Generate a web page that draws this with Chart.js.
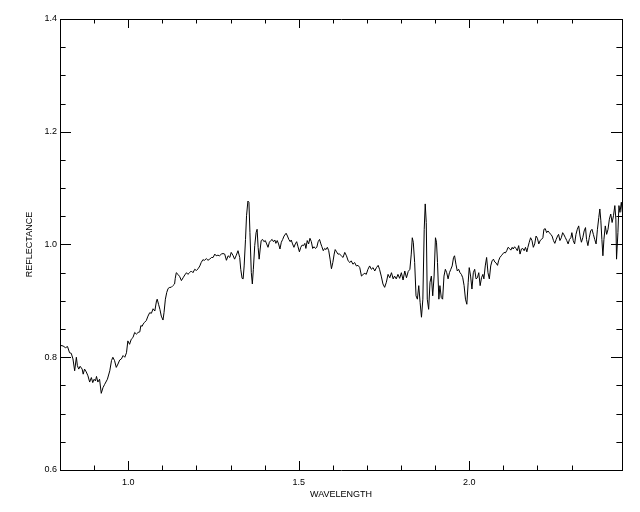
<!DOCTYPE html>
<html>
<head>
<meta charset="utf-8">
<title>Reflectance</title>
<script src="https://cdn.jsdelivr.net/npm/chart.js@4.4.0/dist/chart.umd.min.js"></script>
<style>
  body { margin: 0; background: #fff; }
  #wrap { width: 640px; height: 512px; }
</style>
</head>
<body>
<div id="wrap"><canvas id="specChart" width="640" height="512"></canvas></div>
<script>
// Spectrum
const wavelength = [
  0.802,0.809,0.816,0.822,0.828,0.833,0.838,0.843,0.848,0.851,
  0.855,0.859,0.865,0.868,0.872,0.877,0.882,0.887,0.892,0.896,
  0.900,0.904,0.907,0.911,0.916,0.921,0.926,0.931,0.939,0.946,
  0.951,0.955,0.960,0.965,0.970,0.975,0.980,0.985,0.990,0.995,
  0.999,1.004,1.009,1.014,1.019,1.024,1.029,1.034,1.037,1.041,
  1.044,1.048,1.053,1.058,1.063,1.068,1.073,1.078,1.083,1.085,
  1.089,1.093,1.097,1.102,1.105,1.109,1.113,1.117,1.122,1.126,
  1.131,1.136,1.138,1.141,1.146,1.151,1.156,1.161,1.166,1.171,
  1.175,1.180,1.185,1.190,1.195,1.200,1.205,1.210,1.214,1.219,
  1.224,1.229,1.234,1.239,1.244,1.249,1.254,1.258,1.263,1.268,
  1.273,1.278,1.283,1.288,1.293,1.298,1.302,1.307,1.312,1.317,
  1.322,1.327,1.330,1.334,1.337,1.340,1.344,1.347,1.351,1.354,
  1.357,1.361,1.364,1.367,1.371,1.375,1.378,1.381,1.384,1.387,
  1.390,1.394,1.398,1.402,1.406,1.410,1.414,1.418,1.422,1.426,
  1.430,1.433,1.437,1.441,1.445,1.449,1.453,1.457,1.463,1.467,
  1.471,1.475,1.478,1.482,1.486,1.490,1.494,1.498,1.502,1.506,
  1.510,1.514,1.518,1.521,1.525,1.529,1.533,1.537,1.541,1.545,
  1.549,1.553,1.557,1.561,1.565,1.568,1.572,1.576,1.580,1.584,
  1.588,1.592,1.596,1.600,1.604,1.607,1.611,1.615,1.620,
  1.625,1.630,1.635,1.640,1.645,1.650,1.654,1.659,1.664,1.669,
  1.674,1.679,1.684,1.689,1.694,1.698,1.703,1.708,1.713,1.718,
  1.723,1.728,1.733,1.737,1.742,1.747,1.752,1.757,1.762,1.767,
  1.772,1.777,1.781,1.786,1.791,1.796,1.801,1.806,1.811,1.816,
  1.821,1.826,1.830,1.833,1.836,1.840,1.844,1.848,1.852,1.856,
  1.860,1.864,1.868,1.871,1.874,1.877,1.881,1.885,1.889,1.893,
  1.897,1.901,1.904,1.907,1.911,1.914,1.918,1.922,1.926,1.930,
  1.934,1.938,1.942,1.946,1.950,1.954,1.957,1.961,1.965,1.969,
  1.973,1.977,1.981,1.985,1.989,1.993,1.997,2.000,2.004,2.008,
  2.012,2.016,2.020,2.024,2.028,2.032,2.036,2.040,2.043,2.047,
  2.051,2.055,2.059,2.063,2.067,2.071,2.075,2.079,2.083,2.086,
  2.090,2.094,2.098,2.102,2.106,2.110,2.114,2.118,2.122,2.126,
  2.129,2.133,2.137,2.141,2.145,2.149,2.153,2.157,2.161,2.165,
  2.169,2.172,2.176,2.180,2.184,2.188,2.192,2.196,2.200,2.204,
  2.208,2.212,2.216,2.219,2.223,2.227,2.231,2.235,2.239,2.243,
  2.247,2.251,2.255,2.259,2.262,2.266,2.270,2.274,2.278,2.282,
  2.286,2.290,2.294,2.298,2.301,2.305,2.309,2.313,2.317,2.321,
  2.325,2.329,2.333,2.337,2.341,2.344,2.348,2.352,2.356,2.360,
  2.364,2.368,2.372,2.376,2.380,2.383,2.386,2.389,2.392,2.395,
  2.399,2.403,2.407,2.411,2.415,2.419,2.423,2.427,2.430,2.432,
  2.436,2.439,2.442,2.446,2.449,2.451
];

const reflectance = [
  0.821,0.820,0.817,0.819,0.808,0.807,0.797,0.776,0.800,0.785,
  0.779,0.784,0.779,0.770,0.779,0.774,0.767,0.756,0.764,0.755,
  0.761,0.758,0.766,0.756,0.761,0.736,0.746,0.752,0.761,0.776,
  0.794,0.800,0.794,0.782,0.788,0.795,0.797,0.803,0.800,0.808,
  0.829,0.823,0.832,0.835,0.844,0.841,0.844,0.845,0.856,0.855,
  0.859,0.862,0.865,0.873,0.879,0.878,0.886,0.882,0.900,0.903,
  0.894,0.885,0.873,0.866,0.879,0.903,0.915,0.922,0.924,0.924,
  0.927,0.930,0.940,0.950,0.947,0.943,0.936,0.941,0.946,0.950,
  0.947,0.950,0.953,0.950,0.956,0.954,0.957,0.962,0.968,0.973,
  0.972,0.975,0.972,0.974,0.977,0.977,0.983,0.980,0.981,0.980,
  0.983,0.984,0.983,0.972,0.980,0.977,0.986,0.981,0.974,0.981,
  0.989,0.977,0.956,0.940,0.939,0.962,1.009,1.051,1.077,1.075,
  1.021,0.950,0.930,0.956,0.998,1.021,1.027,0.995,0.974,0.992,
  1.007,1.009,1.005,1.007,1.001,0.995,1.004,1.007,1.009,1.005,
  1.008,1.002,1.007,1.001,0.992,1.004,1.009,1.015,1.020,1.015,
  1.009,1.005,1.008,1.001,0.995,1.001,1.005,0.996,0.987,0.995,
  0.999,0.998,1.002,0.993,1.007,1.001,1.011,1.005,0.993,0.996,
  0.993,0.995,1.005,1.009,1.001,0.996,0.989,0.993,0.991,0.995,
  0.989,0.974,0.957,0.968,0.983,0.991,0.987,0.983,0.983,
  0.980,0.977,0.986,0.980,0.971,0.968,0.971,0.965,0.968,0.962,
  0.963,0.959,0.944,0.947,0.949,0.947,0.956,0.962,0.956,0.959,
  0.953,0.959,0.963,0.956,0.944,0.930,0.924,0.933,0.947,0.941,
  0.950,0.939,0.944,0.939,0.947,0.940,0.950,0.937,0.953,0.941,
  0.952,0.956,0.983,1.012,1.004,0.968,0.909,0.903,0.927,0.897,
  0.871,0.903,1.027,1.072,1.039,0.903,0.885,0.933,0.944,0.909,
  0.944,1.012,1.004,0.968,0.903,0.927,0.906,0.903,0.944,0.956,
  0.950,0.939,0.950,0.956,0.962,0.977,0.980,0.965,0.953,0.956,
  0.950,0.947,0.941,0.927,0.903,0.894,0.933,0.959,0.944,0.921,
  0.950,0.956,0.939,0.941,0.950,0.927,0.941,0.947,0.939,0.962,
  0.977,0.950,0.939,0.962,0.971,0.974,0.969,0.967,0.963,0.971,
  0.977,0.980,0.983,0.986,0.985,0.989,0.995,0.993,0.990,0.995,
  0.992,0.996,0.993,0.989,0.998,0.983,0.992,0.993,0.989,0.995,
  0.987,0.995,1.004,1.012,1.007,0.995,1.001,1.015,1.011,1.001,
  1.007,1.009,1.012,1.027,1.028,1.021,1.024,1.021,1.018,1.015,
  1.007,1.002,1.009,1.015,1.018,1.007,1.012,1.021,1.017,1.012,
  1.007,1.001,1.009,1.012,1.021,1.007,1.001,1.018,1.027,1.033,
  1.015,1.004,1.012,1.024,1.030,1.009,0.998,1.012,1.024,1.027,
  1.018,1.009,1.001,1.027,1.048,1.063,1.042,1.009,0.980,1.009,
  1.033,1.018,1.027,1.045,1.054,1.039,1.051,1.069,1.045,0.974,
  1.021,1.069,1.057,1.075,1.057,1.045
];

// axis ranges and labelled ticks
const xRange = [0.8, 2.448];
const yRange = [0.6, 1.4];
const xTickLabels = ['1.0', '1.5', '2.0'];
const yTickLabels = ['0.6', '0.8', '1.0', '1.2', '1.4'];
const xStep = 0.1, yStep = 0.05;

function onStep(v, step) {
  return Math.abs(v / step - Math.round(v / step)) < 1e-6;
}

const labelFont = { family: '"Liberation Sans", Arial, sans-serif', size: 9 };

// IDL style inward tick marks on all four sides
const tickMarks = {
  id: 'tickMarks',
  afterDraw(chart) {
    const { ctx, chartArea: a, scales: { x, y } } = chart;
    ctx.save();
    ctx.strokeStyle = '#000';
    ctx.lineWidth = 1;
    ctx.beginPath();
    x.ticks.forEach(t => {
      const px = Math.round(x.getPixelForValue(t.value)) + 0.5;
      const len = onStep(t.value, 0.5) ? 9 : 4.5;
      ctx.moveTo(px, a.bottom); ctx.lineTo(px, a.bottom - len);
      ctx.moveTo(px, a.top); ctx.lineTo(px, a.top + len);
    });
    y.ticks.forEach(t => {
      const py = Math.round(y.getPixelForValue(t.value)) + 0.5;
      const len = onStep(t.value, 0.2) ? 11 : 5.6;
      ctx.moveTo(a.left, py); ctx.lineTo(a.left + len, py);
      ctx.moveTo(a.right, py); ctx.lineTo(a.right - len, py);
    });
    ctx.stroke();
    ctx.restore();
  }
};

const frame = { display: true, color: '#000', width: 1 };

const ctx = document.getElementById('specChart').getContext('2d');
const specChart = new Chart(ctx, {
  type: 'line',
  data: {
    datasets: [{
      data: wavelength.map((w, i) => ({ x: w, y: reflectance[i] })),
      borderColor: '#000',
      borderWidth: 1,
      pointRadius: 0,
      tension: 0,
      fill: false
    }]
  },
  options: {
    responsive: false,
    animation: false,
    layout: { padding: 0 },
    plugins: { legend: { display: false }, tooltip: { enabled: false } },
    scales: {
      x: {
        type: 'linear',
        position: 'bottom',
        min: xRange[0], max: xRange[1],
        grid: { display: false, drawTicks: false },
        border: frame,
        ticks: {
          stepSize: xStep,
          autoSkip: false,
          maxRotation: 0,
          padding: 7,
          color: '#000',
          font: labelFont,
          callback: v => {
            const s = v.toFixed(1);
            return onStep(v, 0.5) && xTickLabels.includes(s) ? s : '';
          }
        },
        afterBuildTicks: s => { s.ticks = s.ticks.filter(t => onStep(t.value, xStep)); },
        afterFit: s => { s.height = 42; },
        title: { display: true, text: 'WAVELENGTH', color: '#000', font: labelFont, padding: { top: 0, bottom: 12 } }
      },
      x2: {
        type: 'linear',
        position: 'top',
        min: xRange[0], max: xRange[1],
        grid: { display: false, drawTicks: false },
        border: frame,
        ticks: { display: false },
        afterFit: s => { s.height = 19; }
      },
      y: {
        type: 'linear',
        position: 'left',
        min: yRange[0], max: yRange[1],
        grid: { display: false, drawTicks: false },
        border: frame,
        ticks: {
          stepSize: yStep,
          autoSkip: false,
          padding: 3,
          color: '#000',
          font: labelFont,
          callback: v => {
            const s = v.toFixed(1);
            return onStep(v, 0.2) && yTickLabels.includes(s) ? s : '';
          }
        },
        afterBuildTicks: s => { s.ticks = s.ticks.filter(t => onStep(t.value, yStep)); },
        afterFit: s => { s.width = 60; },
        title: { display: true, text: 'REFLECTANCE', color: '#000', font: labelFont, padding: { top: 24, bottom: 0 } }
      },
      y2: {
        type: 'linear',
        position: 'right',
        min: yRange[0], max: yRange[1],
        grid: { display: false, drawTicks: false },
        border: frame,
        ticks: { display: false },
        afterFit: s => { s.width = 18; }
      }
    }
  },
  plugins: [tickMarks]
});
</script>
</body>
</html>
